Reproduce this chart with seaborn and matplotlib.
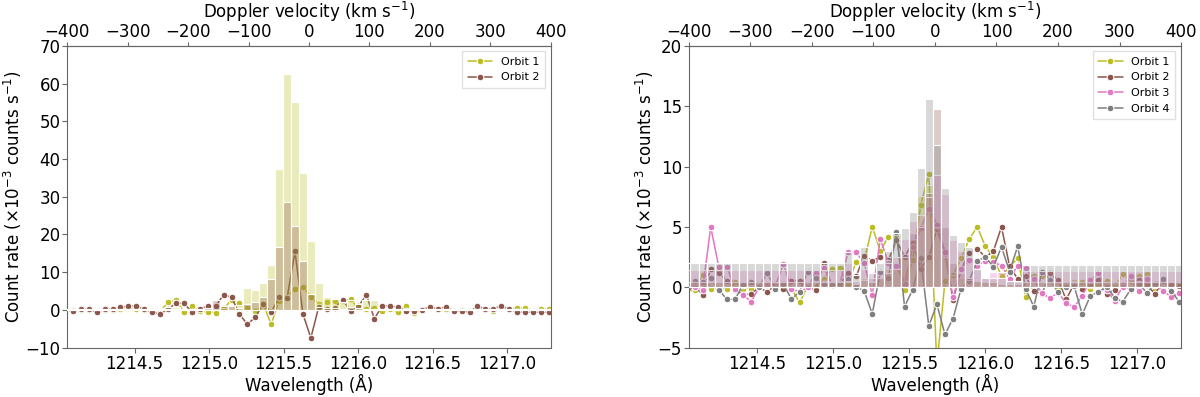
import numpy as np
import pandas as pd
import matplotlib
matplotlib.use("Agg")
import matplotlib.pyplot as plt
import seaborn as sns

# wavelength bin centres (Angstrom), one bin beyond each edge of the window
wavelength = 1214.085 + 0.05325 * np.arange(-1, 61)
lam0 = 1215.67
c_kms = 299792.458

orbit_names = ["Orbit 1", "Orbit 2", "Orbit 3", "Orbit 4"]
orbit_colors = ["#bcbd22", "#8c564b", "#e377c2", "#7f7f7f"]

# ---- left panel: lines ----
left_orbit1 = [0.0, -0.1, 0.1, 0.0, -0.2, -0.1, 0.1, 0.3, 0.6, 0.2, 0.1, -0.2, -0.3, 2.0, 2.7,
               -0.6, 1.0, -0.3, -0.5, -0.7, 0.4, 2.6, 1.9, 0.4, -0.4, 1.5, -3.8, 2.5, 3.5, 5.6,
               6.2, 3.4, 1.6, 2.0, 2.3, 2.5, 2.8, 0.4, 0.2, 0.4, -0.2, 0.2, -0.5, 1.0, -0.9, 0.0,
               0.5, 0.2, 0.3, -0.2, 0.0, -0.4, 0.5, 0.2, -0.4, 0.5, 0.3, 0.6, 0.6, -0.2, 0.3, 0.2]
left_orbit2 = [0.0, -0.27, 0.2, 0.2, -0.6, 0.2, 0.2, 0.7, 1.06, 1.06, 0.2, -0.6, -1.06, 0.2, 1.8,
               1.8, -0.6, 0.2, 1.06, 1.06, 4.0, 3.4, -1.1, -3.8, -1.9, 1.6, -0.6, 3.3, 3.1, 15.5,
               -1.1, -7.4, 0.9, 0.2, 0.6, 2.7, -0.2, 1.0, 4.0, -2.3, 1.06, 1.06, 0.7, -0.2, -0.2,
               0.0, 0.9, 0.2, 0.9, -0.3, -0.3, -0.6, 1.06, 0.2, 0.35, 1.06, 0.2, -0.5, -0.6, -0.6,
               -0.6, -0.6]

# ---- left panel: bars ----
left_bars1 = [0.3, 0.3, 0.3, 0.3, 0.3, 0.3, 0.3, 0.3, 0.3, 0.3, 0.3, 0.3, 0.6, 0.7, 0.7,
              0.3, 0.3, 0.3, 0.3, 0.3, 0.6, 1.0, 1.2, 5.9, 5.3, 7.1, 12.0, 37.3, 62.6, 55.0,
              36.4, 18.3, 7.2, 3.3, 3.0, 2.2, 2.6, 1.5, 2.6, 2.6, 0.3, 0.3, 0.3, 0.3, 0.3,
              0.3, 0.3, 0.3, 0.3, 0.3, 0.3, 0.3, 0.3, 0.3, 0.3, 0.3, 0.3, 0.3, 0.3, 0.3, 0.3, 0.3]
left_bars2 = [0.15, 0.15, 0.15, 0.15, 0.15, 0.15, 0.15, 0.15, 0.15, 0.15, 0.15, 0.15, 0.15, 0.15,
              0.15, 0.15, 0.15, 0.15, 0.5, 2.6, 1.0, 1.0, 0.5, 1.6, 2.2, 3.4, 8.3, 16.8, 28.5,
              22.2, 12.9, 4.2, 0.9, 0.5, 0.5, 0.15, 0.8, 0.5, 0.15, 0.15, 0.15, 0.15, 0.15,
              0.15, 0.15, 0.15, 0.15, 0.15, 0.15, 0.15, 0.15, 0.15, 0.15, 0.15, 0.15, 0.15,
              0.15, 0.15, 0.15, 0.15, 0.15, 0.15]

# ---- right panel: lines ----
right_orbit1 = [-0.4, -0.2, 1.0, -0.1, -0.1, -0.1, 0.4, -0.1, -0.1, 0.0, 0.2, 0.3, 0.1, -0.1,
                -1.25, 0.05, 0.05, 0.7, 1.5, 1.6, 0.3, 2.1, 2.2, 5.0, 3.0, 4.2, 4.2, -0.2, 2.3,
                6.8, 9.4, -6.5, 0.5, 1.0, 2.4, 4.0, 5.0, 3.4, 2.5, 0.9, 1.7, 2.4, -0.8, 0.95,
                0.9, 0.7, -0.1, 0.2, 0.4, 0.4, -0.15, 0.3, 0.5, 0.0, 1.1, 0.5, 0.9, 1.1, -0.15,
                -0.1, 0.2, 0.0]
right_orbit2 = [-0.36, 0.1, -0.6, 1.5, 1.2, 0.55, -0.2, -0.6, -0.55, 0.0, -0.4, 0.2, -0.1, 0.55,
                0.55, 0.0, -0.2, 2.0, 0.15, 0.24, 1.2, 0.9, 2.6, 2.2, 2.5, 2.25, 3.9, 2.5, 3.7,
                1.5, 2.5, 4.8, 2.9, -1.05, 1.5, 2.8, 3.2, 2.5, 3.0, 5.0, 1.75, 0.7, 0.9, -0.3,
                -0.55, 1.15, 0.6, -1.0, 0.27, -0.1, 0.2, 0.6, -0.55, -0.2, 0.2, -0.2, 0.57, 0.2,
                -0.55, 0.55, 0.2, 0.1]
right_orbit3 = [0.3, 0.05, -0.2, 5.0, 1.7, 1.7, -0.1, -0.6, -1.2, 0.0, 0.2, 0.1, 1.9, -0.1, -0.4,
                0.0, 1.2, 1.6, 0.3, 0.3, 2.9, 2.9, 2.0, -0.6, 4.0, 2.0, 1.8, 0.3, 3.3, 4.9, 6.5,
                5.2, 2.9, -0.8, 1.5, 2.3, 1.8, 2.2, 2.1, 1.8, 0.7, 1.8, 1.6, 0.65, -0.5, -0.9,
                -0.45, -1.3, -1.65, -0.7, 0.6, 1.2, -0.2, -1.1, 0.05, 0.9, -0.3, 0.65, 0.2, -0.3,
                -0.8, -0.5]
right_orbit4 = [-0.3, 0.55, 0.44, 0.74, -0.2, -1.0, -1.0, 0.2, 0.44, 0.05, 1.2, -0.14, 0.27, -1.0,
                -0.36, 1.3, 0.8, 0.27, 0.16, 0.27, 0.66, 0.05, -0.3, -2.2, 1.3, 0.8, 4.55, -1.6,
                -0.2, 2.4, -3.2, -1.4, -3.9, -2.6, -0.1, 0.55, 2.2, 2.5, 1.7, 3.35, 1.3, 3.4,
                -0.15, -1.6, 1.3, 0.6, -0.4, 0.0, 0.1, -2.25, -0.7, -0.4, 0.05, -0.85, -1.2,
                -0.15, 0.27, -0.45, 0.27, 0.65, -0.3, -1.2]

# ---- right panel: bars ----
right_bars1 = [0.45] * 20 + [0.5, 0.3, 0.8, 0.5, 0.8, 1.5, 1.5, 2.5, 4.0, 7.6, 8.5, 5.0, 2.5,
                             1.0, 0.8, 0.6, 0.5, 0.4, 0.4, 0.3, 0.3, 0.3] + [0.45] * 20
right_bars2 = [0.4] * 20 + [0.4, 0.3, 0.6, 0.4, 0.8, 1.2, 1.5, 2.5, 4.5, 5.0, 7.8, 14.8, 5.0,
                            2.0, 1.2, 0.8, 0.5, 0.4, 0.4, 0.3, 0.3, 0.3] + [0.4] * 20
right_bars3 = [1.45] * 20 + [2.0, 0.5, 1.5, 0.8, 1.4, 2.0, 2.5, 4.0, 5.5, 6.0, 7.5, 9.3, 7.7,
                             3.95, 3.0, 2.5, 1.5, 0.75, 1.3, 1.3, 0.5, 0.4] + [1.35] * 20
right_bars4 = [2.0] * 20 + [2.9, 1.0, 3.3, 1.2, 2.0, 3.0, 4.5, 4.9, 6.2, 9.9, 15.6, 11.8, 8.2,
                            4.3, 3.75, 3.3, 1.5, 0.8, 0.8, 0.8, 0.5, 0.5] + [1.85] * 20

panels = [
    dict(lines=[left_orbit1, left_orbit2], bars=[left_bars1, left_bars2],
         ylim=(-10, 70), yticks=np.arange(-10, 71, 10),
         rect=[0.0561, 0.1242, 0.4028, 0.7605]),
    dict(lines=[right_orbit1, right_orbit2, right_orbit3, right_orbit4],
         bars=[right_bars1, right_bars2, right_bars3, right_bars4],
         ylim=(-5, 20), yticks=np.arange(-5, 21, 5),
         rect=[0.5741, 0.1242, 0.4101, 0.7605]),
]

sns.set_style("ticks")
plt.rcParams["font.family"] = ["DejaVu Sans"]
plt.rcParams["text.color"] = "black"
plt.rcParams["axes.labelcolor"] = "black"

fig = plt.figure(figsize=(12, 3.97), dpi=100)
binw = 0.05325


def to_vel(lam):
    return c_kms * (lam - lam0) / lam0


def to_lam(v):
    return lam0 * (1 + v / c_kms)


for p in panels:
    ax = fig.add_axes(p["rect"])
    n = len(p["lines"])
    frames = []
    for name, vals in zip(orbit_names[:n], p["lines"]):
        frames.append(pd.DataFrame({"wavelength": wavelength, "rate": vals, "orbit": name}))
    df = pd.concat(frames, ignore_index=True)
    sns.lineplot(data=df, x="wavelength", y="rate", hue="orbit",
                 palette=orbit_colors[:n], marker="o", markersize=4.8,
                 linewidth=1.1, ax=ax, zorder=2)
    for col, vals in zip(orbit_colors[:n], p["bars"]):
        rgba = matplotlib.colors.to_rgba(col, 0.3)
        ax.bar(wavelength, vals, width=binw, color=rgba, edgecolor="white",
               linewidth=0.8, zorder=3)

    ax.set_xlim(to_lam(-400), to_lam(400))
    ax.set_ylim(*p["ylim"])
    ax.set_yticks(p["yticks"])
    ax.set_xticks([1214.5, 1215.0, 1215.5, 1216.0, 1216.5, 1217.0])
    ax.set_xticklabels(["1214.5", "1215.0", "1215.5", "1216.0", "1216.5", "1217.0"])
    ax.tick_params(labelsize=12, color="0.4", labelcolor="black", length=3.5,
                   width=0.8, pad=1.5)
    ax.set_xlabel("Wavelength (Å)", fontsize=12, labelpad=1)
    ax.set_ylabel("Count rate (×10$^{-3}$ counts s$^{-1}$)", fontsize=12, labelpad=1)
    for s in ax.spines.values():
        s.set_visible(True)
        s.set_color("0.4")

    top = ax.secondary_xaxis("top", functions=(to_vel, to_lam))
    top.set_xticks(np.arange(-400, 401, 100))
    top.tick_params(labelsize=12, color="0.4", labelcolor="black", length=3,
                    width=0.8, pad=0.5)
    top.spines["top"].set_color("0.4")
    top.set_xlabel("Doppler velocity (km s$^{-1}$)", fontsize=12, labelpad=3.5)

    leg = ax.get_legend()
    handles = leg.legend_handles
    labels = [t.get_text() for t in leg.get_texts()]
    leg.remove()
    ax.legend(handles, labels, loc="upper right", fontsize=8, frameon=True,
              fancybox=False, edgecolor="0.85", borderpad=0.5, handlelength=2.2)

fig.savefig("out.png", dpi=100)
